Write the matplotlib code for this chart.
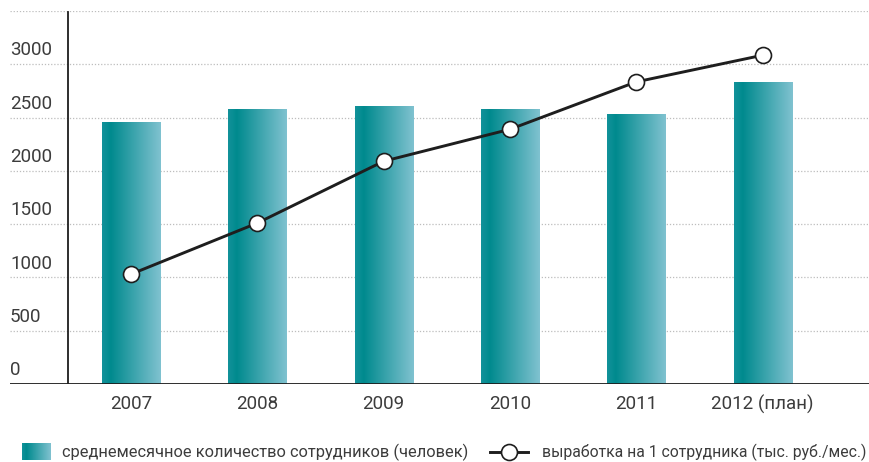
import numpy as np
import matplotlib.pyplot as plt
from matplotlib.colors import LinearSegmentedColormap
from matplotlib.lines import Line2D

# data
years = ['2007', '2008', '2009', '2010', '2011', '2012 (план)']
staff = [2460, 2580, 2610, 2585, 2535, 2835]        # среднемесячное количество сотрудников
output = [1030, 1510, 2090, 2390, 2835, 3085]       # выработка на 1 сотрудника
yticks = [0, 500, 1000, 1500, 2000, 2500, 3000]
legend_bar = 'среднемесячное количество сотрудников (человек)'
legend_line = 'выработка на 1 сотрудника (тыс. руб./мес.)'

plt.rcParams['font.family'] = ['Roboto', 'DejaVu Sans']
txt_col = '#3c3c3c'

# teal gradient used for the bars
cmap = LinearSegmentedColormap.from_list(
    'teal', [(0, '#12929a'), (0.15, '#008a8e'), (1, '#80c2d0')])
grad = np.linspace(0, 1, 256).reshape(1, -1)

fig = plt.figure(figsize=(8.7, 4.62), dpi=100)
ax = fig.add_axes([10/870, 78/462, 860/870, 373/462])

x = np.arange(len(years))
bars = ax.bar(x, staff, width=0.46, color='none', zorder=2)
for b in bars:
    x0, y0 = b.get_x(), b.get_y()
    im = ax.imshow(grad, cmap=cmap, aspect='auto', zorder=2,
                   extent=[x0, x0 + b.get_width(), y0, y0 + b.get_height()])
    im.set_clip_path(b)

ax.plot(x, output, color='#1e1e1e', lw=2.1, marker='o', ms=11.5,
        mfc='white', mec='#1e1e1e', mew=1.2, zorder=4)

ax.set_xlim(-0.957, 5.85)
ax.set_ylim(0, 3500)

# dotted grid lines, including the top one
for v in yticks[1:] + [3500]:
    ax.axhline(v, color='#bdbdbd', lw=0.9, ls=(0, (1, 1.5)), zorder=1)
ax.axhline(0, color='#1e1e1e', lw=1.3, zorder=3)
ax.axvline(-0.5, ymax=0.997, color='#1e1e1e', lw=1.3, zorder=3)

# y labels sit just above their grid line at the left edge
for v in yticks:
    ax.text(-0.957, v + 45, str(v), fontsize=13.5, color=txt_col,
            ha='left', va='bottom')

for s in ax.spines.values():
    s.set_visible(False)
ax.set_yticks([])
ax.set_xticks(x)
ax.set_xticklabels(years, fontsize=13.5, color=txt_col)
ax.tick_params(axis='x', length=0, pad=8)
ax.set_facecolor('none')

# legend drawn by hand
lax = fig.add_axes([22/870, 2/462, 29/870, 17/462])
lax.imshow(grad, cmap=cmap, aspect='auto')
lax.axis('off')
fig.text(62/870, 10/462, legend_bar, fontsize=11.8, color=txt_col,
         ha='left', va='center')
fig.add_artist(Line2D([490/870, 528/870], [10/462, 10/462], color='#1e1e1e',
                      lw=2.1, transform=fig.transFigure))
fig.add_artist(Line2D([509/870], [10/462], marker='o', ms=11.5, mfc='white',
                      mec='#1e1e1e', mew=1.2, transform=fig.transFigure))
fig.text(866/870, 10/462, legend_line, fontsize=11.3, color=txt_col,
         ha='right', va='center')

fig.savefig('out.png', dpi=100)
